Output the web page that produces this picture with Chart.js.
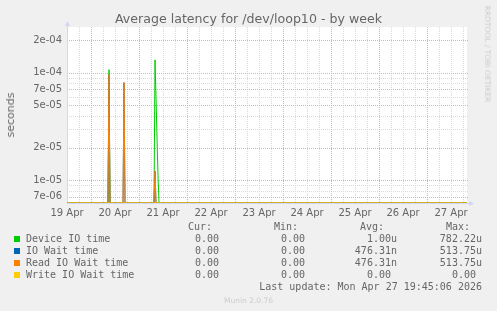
<!DOCTYPE html>
<html>
<head>
<meta charset="utf-8">
<script src="https://cdn.jsdelivr.net/npm/chart.js@4/dist/chart.umd.min.js"></script>
<style>
  html, body { margin: 0; padding: 0; background: #F0F0F0; }
  #wrap { position: relative; width: 497px; height: 311px; overflow: hidden; }
  canvas { position: absolute; left: 0; top: 0; }
  .t { position: absolute; white-space: pre; color: #666; }
  .mono { font-family: "DejaVu Sans Mono", monospace; font-size: 10px; line-height: 12px; }
  .sq { position: absolute; width: 6px; height: 6px; }
</style>
</head>
<body>
<div id="wrap">
  <canvas id="c" width="497" height="311"></canvas>
  <div id="overlay"></div>
</div>
<script>
// ---- data ----
// time axis in hours since 19 Apr 00:00
const hours        = [12, 32.5, 33, 33.5, 40, 40.5, 41, 55.5, 56, 56.5, 57, 57.5, 58, 212];
const deviceIOTime = [0, 0, 1.07e-4, 0, 0, 0, 0, 0, 1.32e-4, 6.0e-5, 2.5e-5, 1.1e-5, 0, 0];
const ioWaitTime   = [0, 0, 9.6e-5, 0, 0, 8.1e-5, 0, 0, 1.22e-5, 0, 0, 0, 0, 0];
const readIOWait   = [0, 0, 9.6e-5, 0, 0, 8.1e-5, 0, 0, 1.22e-5, 0, 0, 0, 0, 0];
const writeIOWait  = [0, 0, 0, 0, 0, 0, 0, 0, 0, 0, 0, 0, 0, 0];

const seriesNames  = ["Device IO time", "IO Wait time", "Read IO Wait time", "Write IO Wait time"];
const seriesColors = ["#00CC00", "#0066B3", "#FF8000", "#FFCC00"];
const curValues    = ["0.00", "0.00", "0.00", "0.00"];
const minValues    = ["0.00", "0.00", "0.00", "0.00"];
const avgValues    = ["1.00u", "476.31n", "476.31n", "0.00 "];
const maxValues    = ["782.22u", "513.75u", "513.75u", "0.00 "];

const dayLabels     = ["19 Apr", "20 Apr", "21 Apr", "22 Apr", "23 Apr", "24 Apr", "25 Apr", "26 Apr", "27 Apr"];
const dayLabelHours = [12, 36, 60, 84, 108, 132, 156, 180, 204];
const xMajorHours   = [24, 48, 72, 96, 120, 144, 168, 192];
const xMinorHours   = [18, 30, 36, 42, 54, 60, 66, 78, 84, 90, 102, 108, 114, 126, 132, 138, 150, 156, 162, 174, 180, 186, 198, 204, 210];
const yLabelTicks   = [7e-6, 1e-5, 2e-5, 5e-5, 7e-5, 1e-4, 2e-4];
const yTickLabels   = ["7e-06", "1e-05", "2e-05", "5e-05", "7e-05", "1e-04", "2e-04"];
const yMinorTicks   = [8e-6, 9e-6, 3e-5, 4e-5, 6e-5, 8e-5, 9e-5];

const X_MIN = 12, X_MAX = 212;
const Y_MIN = 6.14e-6, Y_MAX = 2.67e-4;

// ---- chart ----
const MAJOR = "#EEAAAA";
const MINOR = "#D9D9D9";
const AXIS = "#CFD6F8";
const TEXT = "#666666";

// zero readings sit on the floor of the log axis
function pts(arr) { return hours.map((h, i) => ({ x: h, y: arr[i] > 0 ? arr[i] : Y_MIN })); }
const seriesData = [deviceIOTime, ioWaitTime, readIOWait, writeIOWait];

const bgPlugin = {
  id: "bg",
  beforeDraw(chart) {
    const { ctx, chartArea: a } = chart;
    ctx.save();
    ctx.fillStyle = "#FFFFFF";
    ctx.fillRect(a.left, a.top, a.right - a.left, a.bottom - a.top);
    ctx.restore();
  },
  beforeDatasetsDraw(chart) {
    const { ctx, chartArea: a, scales } = chart;
    const xs = scales.x, ys = scales.y;
    ctx.save();
    ctx.lineWidth = 1;
    ctx.setLineDash([1, 1]);
    function vline(h, c) {
      const x = Math.round(xs.getPixelForValue(h)) + 0.5;
      ctx.strokeStyle = c;
      ctx.beginPath(); ctx.moveTo(x, a.top); ctx.lineTo(x, a.bottom); ctx.stroke();
    }
    function hline(v, c) {
      const y = Math.round(ys.getPixelForValue(v)) + 0.5;
      ctx.strokeStyle = c;
      ctx.beginPath(); ctx.moveTo(a.left, y); ctx.lineTo(a.right + 2, y); ctx.stroke();
    }
    xMinorHours.forEach(h => vline(h, MINOR));
    yMinorTicks.forEach(v => hline(v, MINOR));
    xMajorHours.forEach(h => vline(h, MAJOR));
    yLabelTicks.forEach(v => hline(v, MAJOR));
    ctx.setLineDash([]);
    // axes with arrows
    ctx.strokeStyle = AXIS;
    ctx.fillStyle = AXIS;
    ctx.beginPath();
    ctx.moveTo(a.left + 0.5, a.bottom);
    ctx.lineTo(a.left + 0.5, a.top - 4);
    ctx.moveTo(a.left, a.bottom + 0.5);
    ctx.lineTo(a.right + 3, a.bottom + 0.5);
    ctx.stroke();
    ctx.beginPath();
    ctx.moveTo(a.left - 2, a.top - 1);
    ctx.lineTo(a.left + 3, a.top - 1);
    ctx.lineTo(a.left + 0.5, a.top - 6);
    ctx.closePath();
    ctx.fill();
    ctx.beginPath();
    ctx.moveTo(a.right + 2, a.bottom - 2);
    ctx.lineTo(a.right + 2, a.bottom + 3);
    ctx.lineTo(a.right + 7, a.bottom + 0.5);
    ctx.closePath();
    ctx.fill();
    ctx.restore();
  }
};

new Chart(document.getElementById("c"), {
  type: "line",
  data: {
    datasets: seriesNames.map((n, i) => ({
      label: n,
      data: pts(seriesData[i]),
      borderColor: seriesColors[i],
      backgroundColor: seriesColors[i],
      borderWidth: 1,
      pointRadius: 0,
      tension: 0,
      fill: false,
      order: 4 - i
    }))
  },
  options: {
    responsive: false,
    devicePixelRatio: 1,
    animation: false,
    events: [],
    layout: { padding: { left: 0, top: 27, right: 30, bottom: 0 } },
    plugins: { legend: { display: false }, title: { display: false }, tooltip: { enabled: false } },
    scales: {
      x: {
        type: "linear",
        min: X_MIN, max: X_MAX,
        afterFit(s) { s.height = 108; },
        afterBuildTicks(s) { s.ticks = dayLabelHours.map(v => ({ value: v })); },
        ticks: {
          autoSkip: false, maxRotation: 0, minRotation: 0, padding: 4,
          color: TEXT,
          font: { family: "DejaVu Sans", size: 10 },
          callback(v) {
            const k = dayLabelHours.indexOf(v);
            return k >= 0 ? dayLabels[k] : "";
          }
        },
        grid: { display: false, drawTicks: false },
        border: { display: false }
      },
      y: {
        type: "logarithmic",
        min: Y_MIN, max: Y_MAX,
        bounds: "data",
        afterFit(s) { s.width = 67; },
        afterBuildTicks(s) { s.ticks = yLabelTicks.map(v => ({ value: v })); },
        ticks: {
          autoSkip: false, padding: 5,
          color: TEXT,
          font: { family: "DejaVu Sans", size: 10 },
          callback(v) {
            const k = yLabelTicks.findIndex(t => Math.abs(t - v) / t < 1e-6);
            return k >= 0 ? yTickLabels[k] : "";
          }
        },
        grid: { display: false, drawTicks: false },
        border: { display: false }
      }
    }
  },
  plugins: [bgPlugin]
});

// ---- texts (title, legend, notes) as real HTML text ----
const ov = document.getElementById("overlay");
function addText(txt, css, cls) {
  const d = document.createElement("div");
  d.className = "t " + (cls || "");
  d.textContent = txt;
  Object.assign(d.style, css);
  ov.appendChild(d);
  return d;
}
addText("Average latency for /dev/loop10 - by week",
  { left: "0px", width: "497px", textAlign: "center", top: "11px", fontFamily: "DejaVu Sans", fontSize: "12.6px", lineHeight: "16px" });
addText("seconds",
  { left: "11px", top: "115px", fontFamily: "DejaVu Sans", fontSize: "11px", lineHeight: "12px", transform: "translate(-50%,-50%) rotate(-90deg)" });
addText("RRDTOOL / TOBI OETIKER",
  { left: "487px", top: "53.5px", fontFamily: "DejaVu Sans", fontSize: "7.5px", lineHeight: "8px", transform: "translate(-50%,-50%) rotate(90deg)", color: "#CCCCCC" });
addText("Munin 2.0.76",
  { left: "0px", width: "497px", textAlign: "center", top: "296px", fontFamily: "DejaVu Sans", fontSize: "7.5px", lineHeight: "9px", color: "#CCCCCC" });

const ROW0 = 227.3, ROWH = 12;
function rightText(txt, xEnd, yc) {
  addText(txt, { right: (497 - xEnd) + "px", top: (yc - 6) + "px", textAlign: "right" }, "mono");
}
rightText("Cur:", 212, ROW0);
rightText("Min:", 298, ROW0);
rightText("Avg:", 384, ROW0);
rightText("Max:", 470, ROW0);
seriesNames.forEach((n, i) => {
  const yc = ROW0 + ROWH * (i + 1);
  const sq = document.createElement("div");
  sq.className = "sq";
  Object.assign(sq.style, { left: "14px", top: (yc - 3) + "px", background: seriesColors[i] });
  ov.appendChild(sq);
  addText(n, { left: "26px", top: (yc - 6) + "px" }, "mono");
  rightText(curValues[i] + " ", 225, yc);
  rightText(minValues[i] + " ", 311, yc);
  rightText(avgValues[i], 397, yc);
  rightText(maxValues[i], 482, yc);
});
rightText("Last update: Mon Apr 27 19:45:06 2026", 482, ROW0 + ROWH * 5);
</script>
</body>
</html>
